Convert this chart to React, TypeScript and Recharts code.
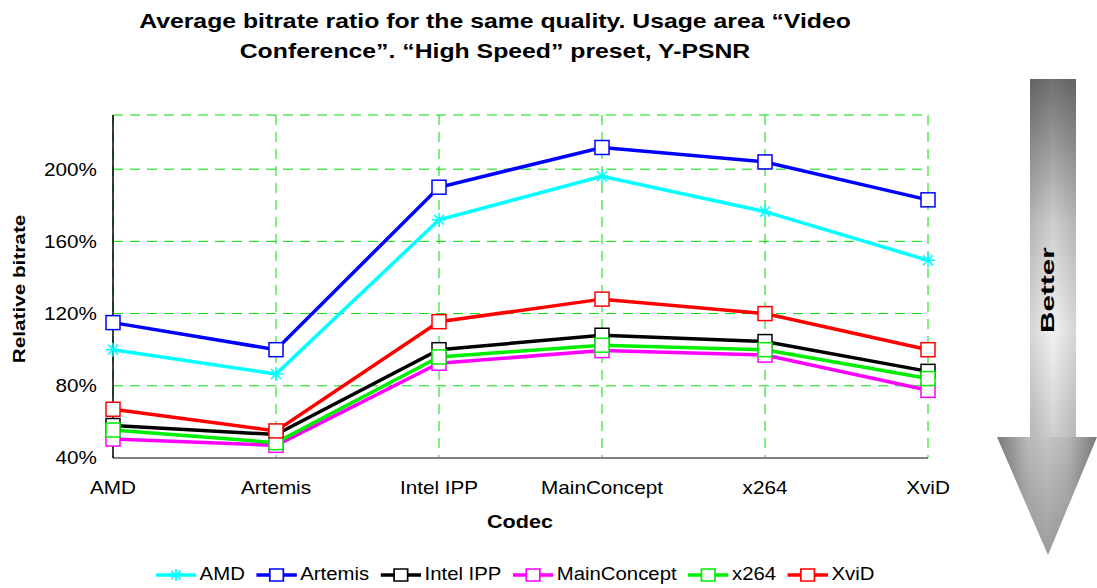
import React from "react";
import { CartesianGrid, Line, LineChart, XAxis, YAxis } from "recharts";

const FONT = "'Liberation Sans', Arial, sans-serif";

const codecs = ["AMD", "Artemis", "Intel IPP", "MainConcept", "x264", "XviD"];

// relative bitrate, percent
const amd = [100, 86.5, 172, 196, 176.5, 149.5];
const artemis = [115, 100, 190, 212, 204, 183];
const intelIpp = [58, 53, 100, 108, 104.5, 88];
const mainConcept = [50.5, 47, 92.5, 99.5, 97, 77.5];
const x264 = [55.5, 48.5, 96, 102.5, 100, 84];
const xvid = [67, 55, 115.5, 128, 120, 100];

const yTicks = [40, 80, 120, 160, 200];

const SERIES = [
  { key: "AMD", values: amd, color: "#00ffff", star: true },
  { key: "Artemis", values: artemis, color: "#0000ff", star: false },
  { key: "Intel IPP", values: intelIpp, color: "#000000", star: false },
  { key: "MainConcept", values: mainConcept, color: "#ff00ff", star: false },
  { key: "x264", values: x264, color: "#00ee00", star: false },
  { key: "XviD", values: xvid, color: "#ff0000", star: false },
];

const rows = codecs.map((c, i) => {
  const row: Record<string, string | number> = { codec: c };
  SERIES.forEach((s) => (row[s.key] = s.values[i]));
  return row;
});

function Marker({ cx, cy, color, star, size = 14 }: any) {
  if (cx == null || cy == null) return null;
  const h = size / 2;
  if (star) {
    const d = h * 0.72;
    return (
      <g stroke={color} strokeWidth={1.5}>
        <line x1={cx - h} y1={cy} x2={cx + h} y2={cy} />
        <line x1={cx} y1={cy - h} x2={cx} y2={cy + h} />
        <line x1={cx - d} y1={cy - d} x2={cx + d} y2={cy + d} />
        <line x1={cx - d} y1={cy + d} x2={cx + d} y2={cy - d} />
      </g>
    );
  }
  return <rect x={cx - h} y={cy - h} width={size} height={size} fill="#fff" stroke={color} strokeWidth={1.5} />;
}

// the source text is drawn a bit wide, so ticks get stretched horizontally
function XTick({ x, y, payload }: any) {
  return (
    <text
      transform={`translate(${x} ${y}) scale(1.15 1)`}
      textAnchor="middle"
      dy="0.71em"
      fill="#000"
      fontSize={18}
      fontFamily={FONT}
    >
      {payload.value}
    </text>
  );
}

function YTick({ x, y, payload }: any) {
  return (
    <text
      transform={`translate(${x} ${y}) scale(1.15 1)`}
      textAnchor="end"
      dy="0.355em"
      fill="#000"
      fontSize={18}
      fontFamily={FONT}
    >
      {`${payload.value}%`}
    </text>
  );
}

function ChartLegend() {
  return (
    <div
      style={{
        position: "absolute",
        top: 564,
        left: 115,
        width: 800,
        display: "flex",
        justifyContent: "center",
        gap: 10,
        fontFamily: FONT,
        fontSize: 18,
        color: "#000",
        transform: "scaleX(1.13)",
        transformOrigin: "center",
      }}
    >
      {SERIES.map((s) => (
        <div key={s.key} style={{ display: "flex", alignItems: "center", gap: 3 }}>
          <svg width={36} height={20}>
            <line x1={0} y1={10} x2={36} y2={10} stroke={s.color} strokeWidth={3.5} />
            <Marker cx={18} cy={10} color={s.color} star={s.star} size={12} />
          </svg>
          <span>{s.key}</span>
        </div>
      ))}
    </div>
  );
}

function Annotations() {
  return (
    <svg width={1097} height={588} style={{ position: "absolute", left: 0, top: 0, pointerEvents: "none" }}>
      <defs>
        <linearGradient id="bodyGrad" x1="0" y1="0" x2="0" y2="1">
          <stop offset="0%" stopColor="#707070" />
          <stop offset="40%" stopColor="#cdcdcd" />
          <stop offset="70%" stopColor="#f2f2f2" />
          <stop offset="100%" stopColor="#cfcfcf" />
        </linearGradient>
        <linearGradient id="bodySide" x1="0" y1="0" x2="1" y2="0">
          <stop offset="0%" stopColor="#000" stopOpacity={0.12} />
          <stop offset="50%" stopColor="#000" stopOpacity={0} />
          <stop offset="100%" stopColor="#000" stopOpacity={0.12} />
        </linearGradient>
        <linearGradient id="headGrad" x1="0" y1="0" x2="1" y2="0">
          <stop offset="0%" stopColor="#7a7a7a" />
          <stop offset="30%" stopColor="#b8b8b8" />
          <stop offset="50%" stopColor="#c4c4c4" />
          <stop offset="70%" stopColor="#b8b8b8" />
          <stop offset="100%" stopColor="#7a7a7a" />
        </linearGradient>
        <linearGradient id="headShade" x1="0" y1="0" x2="0" y2="1">
          <stop offset="0%" stopColor="#000" stopOpacity={0} />
          <stop offset="100%" stopColor="#000" stopOpacity={0.2} />
        </linearGradient>
      </defs>

      <g fontFamily={FONT} fontWeight="bold" fill="#000" textAnchor="middle">
        <text transform="translate(495 28) scale(1.24 1)" fontSize={20}>
          Average bitrate ratio for the same quality. Usage area “Video
        </text>
        <text transform="translate(495 58) scale(1.24 1)" fontSize={20}>
          Conference”. “High Speed” preset, Y-PSNR
        </text>
        <text transform="translate(520 522) scale(1.2 1)" fontSize={18} dy="0.355em">
          Codec
        </text>
        <text transform="translate(19 289) rotate(-90) scale(1.22 1)" fontSize={17} dy="0.355em">
          Relative bitrate
        </text>
      </g>

      <rect x={1030} y={79} width={46} height={358} fill="url(#bodyGrad)" />
      <rect x={1030} y={79} width={46} height={358} fill="url(#bodySide)" />
      <polygon points="997,437 1097,437 1048,555" fill="url(#headGrad)" />
      <polygon points="997,437 1097,437 1048,555" fill="url(#headShade)" />
      <text
        transform="translate(1048 290) rotate(-90) scale(1.65 1)"
        textAnchor="middle"
        dy="0.355em"
        fontFamily={FONT}
        fontWeight="bold"
        fontSize={18}
        fill="#000"
      >
        Better
      </text>
    </svg>
  );
}

export default function App() {
  return (
    <div style={{ position: "relative", width: 1097, height: 588, background: "#fff", fontFamily: FONT }}>
      <style>{`body{margin:0}`}</style>
      <div style={{ position: "absolute", left: 0, top: 0 }}>
        <LineChart width={1097} height={588} data={rows} margin={{ top: 115, right: 169, bottom: 55, left: 0 }}>
          <CartesianGrid stroke="#00dd00" strokeDasharray="10 7" strokeWidth={1} />
          <XAxis
            dataKey="codec"
            height={75}
            axisLine={{ stroke: "#808080", strokeWidth: 2 }}
            tickLine={false}
            tickSize={6}
            tickMargin={17}
            tick={<XTick />}
            interval={0}
          />
          <YAxis
            width={113}
            domain={[40, 230]}
            ticks={yTicks}
            axisLine={{ stroke: "#000", strokeWidth: 1.5 }}
            tickLine={false}
            tickSize={6}
            tickMargin={10}
            tick={<YTick />}
          />
          {SERIES.map((s) => (
            <Line
              key={s.key}
              type="linear"
              dataKey={s.key}
              stroke={s.color}
              strokeWidth={3.5}
              dot={(p: any) => <Marker key={`${s.key}-${p.index}`} cx={p.cx} cy={p.cy} color={s.color} star={s.star} />}
              activeDot={false}
              isAnimationActive={false}
            />
          ))}
        </LineChart>
      </div>
      <ChartLegend />
      <Annotations />
    </div>
  );
}
